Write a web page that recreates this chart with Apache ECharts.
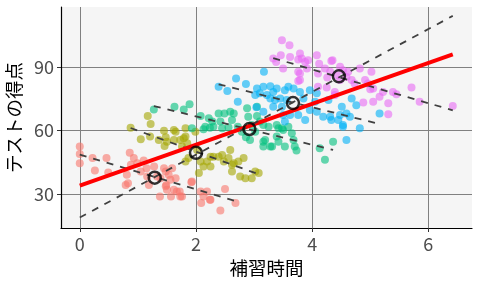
<!DOCTYPE html>
<html><head><meta charset="utf-8">
<script src="https://cdn.jsdelivr.net/npm/echarts@6/dist/echarts.min.js"></script>
<style>html,body{margin:0;padding:0;background:#fff}#c{width:480px;height:288px}</style>
</head><body><div id="c"></div>
<script>
const xTicks = [0, 2, 4, 6];
const yTicks = [30, 60, 90];
const xTitle = '補習時間';
const yTitle = 'テストの得点';
const groupColors = ['#F8766D', '#A3A500', '#00BF7D', '#00B0F6', '#E76BF3'];

const g1 = [[0.0,52.4],[0.0,48.9],[0.0,44.5],[0.22,46.9],[0.26,41.0],[0.46,46.9],[0.49,40.1],[0.86,49.5],[0.93,46.9],[0.88,43.7],[0.81,39.0],[0.79,34.2],[0.83,35.0],[0.99,44.5],[1.05,40.6],[1.10,45.8],[1.15,42.1],[1.16,38.2],[1.19,34.2],[1.28,42.9],[1.38,28.7],[1.39,37.4],[1.45,42.1],[1.48,40.6],[1.49,34.2],[1.50,31.9],[1.53,39.0],[1.57,28.7],[1.59,42.1],[1.62,31.9],[1.67,31.1],[1.72,31.1],[1.76,28.7],[1.92,35.4],[2.08,31.1],[2.09,25.6],[2.13,28.7],[2.19,31.1],[2.24,27.2],[2.42,22.0],[2.50,32.2],[2.68,25.6],[1.33,38.2],[1.56,36.6],[1.48,33.5],[1.65,37.4],[1.73,28.7],[1.93,35.8],[2.25,27.2]];
const g2 = [[0.875,61.3],[1.17,66.9],[1.22,63.1],[1.05,55.8],[1.21,57.1],[1.36,55.5],[1.45,59.9],[1.48,56.8],[1.46,52.7],[1.50,54.7],[1.62,60.2],[1.73,55.5],[1.82,61.0],[1.82,57.1],[1.85,54.0],[1.99,59.4],[1.76,52.4],[1.65,59.4],[1.79,56.3],[1.82,45.3],[1.87,46.9],[2.02,50.8],[2.08,45.3],[2.13,42.9],[2.19,45.3],[2.25,47.6],[2.25,42.9],[2.39,47.6],[2.45,48.4],[2.48,45.3],[2.56,46.9],[2.62,43.7],[2.59,50.8],[2.76,38.2],[2.82,46.9],[2.85,37.4],[2.96,37.4],[3.02,40.6],[3.08,39.8],[2.05,39.8],[1.62,55.5],[2.30,47.6],[2.65,44.5],[2.73,45.3],[2.62,40.6]];
const g3 = [[1.275,70.0],[1.63,71.2],[1.79,70.0],[1.89,72.4],[1.93,61.0],[2.08,66.9],[2.13,60.6],[2.22,65.8],[2.28,64.2],[2.24,61.3],[2.39,68.1],[2.42,64.2],[2.49,68.1],[2.59,68.9],[2.62,65.0],[2.65,68.1],[2.56,61.5],[2.72,61.8],[2.88,70.5],[3.05,71.2],[3.05,66.9],[2.16,61.8],[2.30,61.8],[2.45,61.0],[3.10,64.2],[3.25,61.8],[3.39,62.6],[3.48,61.0],[2.90,66.5],[2.96,62.6],[3.02,59.4],[3.16,62.6],[3.19,55.5],[3.31,52.4],[3.39,57.1],[3.42,61.0],[3.50,60.2],[3.59,61.8],[3.65,58.7],[3.68,55.5],[3.70,52.4],[3.53,52.4],[3.16,52.4],[4.13,51.6],[4.36,54.7],[3.16,54.7],[3.28,52.4],[3.42,54.7],[3.73,50.5],[4.22,46.1],[2.79,59.4],[2.86,56.8],[2.93,55.5]];
const g4 = [[2.39,80.7],[2.54,78.7],[2.69,84.7],[2.86,82.0],[3.05,79.9],[2.72,73.6],[3.04,71.0],[3.17,87.8],[3.16,80.7],[3.28,81.0],[3.02,76.8],[3.10,77.6],[3.22,76.8],[3.33,78.3],[3.39,79.9],[3.53,79.1],[3.59,80.7],[3.68,79.9],[3.79,78.3],[3.96,79.1],[4.08,77.6],[3.28,75.2],[3.36,74.4],[3.45,75.2],[3.56,74.4],[3.48,71.2],[3.33,71.2],[3.16,68.9],[3.50,67.3],[3.62,67.3],[3.76,67.3],[3.88,65.0],[3.96,69.7],[4.08,68.9],[4.19,66.5],[4.31,66.5],[4.33,65.0],[4.48,67.3],[4.45,65.0],[4.59,68.1],[4.65,66.5],[4.76,72.0],[4.51,71.2],[4.68,75.2],[4.53,61.8],[4.82,61.0],[4.59,55.5],[4.28,74.4],[3.85,75.2],[4.05,73.6],[3.53,64.2],[4.53,62.6],[5.16,68.1]];
const g5 = [[3.48,102.8],[3.61,100.4],[3.33,94.1],[3.38,92.5],[3.50,89.4],[3.62,94.9],[3.79,96.5],[3.82,94.1],[3.88,92.5],[3.76,87.8],[3.79,83.9],[3.91,89.4],[4.08,95.7],[4.12,91.7],[4.10,87.0],[4.22,89.4],[4.31,87.8],[4.35,93.3],[4.26,85.1],[4.48,90.2],[4.53,88.6],[4.42,86.2],[4.48,83.9],[4.59,85.4],[4.62,87.8],[4.82,89.4],[5.02,87.8],[4.91,83.9],[4.96,82.3],[5.05,79.9],[5.22,78.3],[5.39,78.3],[5.16,76.0],[5.05,73.6],[5.31,72.9],[5.45,77.2],[5.71,80.4],[5.85,73.6],[6.42,71.6],[4.10,80.7],[4.73,82.3],[5.00,79.6],[4.88,73.3],[5.31,67.7],[3.46,95.7],[3.76,93.6],[3.93,93.3],[4.33,93.0],[3.79,87.0],[3.76,83.5],[4.25,80.4],[4.39,78.3],[4.39,76.8],[4.68,83.9]];

const groupIntercept = [48.6, 69.9, 80.15, 98.1, 121.0];
const groupSlope = [-8.25, -9.96, -6.73, -6.78, -8.01];
const meanX = [1.29, 2.0, 2.92, 3.67, 4.46];
const meanY = [37.6, 49.4, 60.7, 73.0, 85.7];
const overallIntercept = 33.8, overallSlope = 9.7;
const meanLineIntercept = 18.7, meanLineSlope = 14.9;

const groups = [g1, g2, g3, g4, g5];
const font = 'Noto Sans CJK JP';
const dash = [7, 7];

function fitLine(a, b, x0, x1) { return [[x0, a + b * x0], [x1, a + b * x1]]; }

const series = [];
groups.forEach((g, i) => {
  series.push({
    type: 'scatter', data: g, symbolSize: 8, z: 2,
    itemStyle: { color: groupColors[i], opacity: 0.6 }
  });
});
groups.forEach((g, i) => {
  const xs = g.map(p => p[0]);
  series.push({
    type: 'line', data: fitLine(groupIntercept[i], groupSlope[i], Math.min(...xs), Math.max(...xs)),
    showSymbol: false, symbol: 'none', z: 3,
    lineStyle: { color: '#404040', width: 1.8, type: dash }
  });
});
const allX = groups.flat().map(p => p[0]);
const xMinAll = Math.min(...allX), xMaxAll = Math.max(...allX);
series.push({
  type: 'line', data: fitLine(overallIntercept, overallSlope, xMinAll, xMaxAll),
  symbol: 'none', z: 4, lineStyle: { color: '#FF0000', width: 4 }
});
series.push({
  type: 'line', data: fitLine(meanLineIntercept, meanLineSlope, xMinAll, xMaxAll),
  symbol: 'none', z: 4, lineStyle: { color: '#404040', width: 1.8, type: dash }
});
series.push({
  type: 'scatter', data: meanX.map((x, i) => [x, meanY[i]]), symbol: 'circle', symbolSize: 12, z: 5,
  itemStyle: { color: 'rgba(0,0,0,0)', borderColor: '#000', borderWidth: 2.5 }
});

const chart = echarts.init(document.getElementById('c'), null, { renderer: 'canvas' });
chart.setOption({
  animation: false,
  backgroundColor: '#fff',
  grid: { left: 61, right: 8, top: 7, bottom: 60, show: true, backgroundColor: '#f5f5f5', borderWidth: 0, containLabel: false, outerBoundsMode: 'none' },
  xAxis: {
    type: 'value', min: -0.323, max: 6.751,
    name: xTitle, nameLocation: 'middle', nameGap: 40,
    nameTextStyle: { fontFamily: font, fontSize: 18.5, color: '#000', verticalAlign: 'middle' },
    axisLine: { show: true, onZero: false, lineStyle: { color: '#000', width: 1.2 } },
    axisTick: { show: true, customValues: xTicks, length: 4, lineStyle: { color: '#333' } },
    axisLabel: { customValues: xTicks, fontFamily: font, fontSize: 18, color: '#4d4d4d', margin: 7 },
    splitLine: { show: true, lineStyle: { color: '#808080', width: 1 } }
  },
  yAxis: {
    type: 'value', min: 13.76, max: 118.55,
    name: yTitle, nameLocation: 'middle', nameGap: 44,
    nameTextStyle: { fontFamily: font, fontSize: 18.5, color: '#000', verticalAlign: 'middle' },
    axisLine: { show: true, onZero: false, lineStyle: { color: '#000', width: 1.2 } },
    axisTick: { show: true, customValues: yTicks, length: 4, lineStyle: { color: '#333' } },
    axisLabel: { customValues: yTicks, fontFamily: font, fontSize: 18, color: '#4d4d4d', margin: 7 },
    splitLine: { show: true, lineStyle: { color: '#808080', width: 1 } }
  },
  series: series
});
</script>
</body></html>
